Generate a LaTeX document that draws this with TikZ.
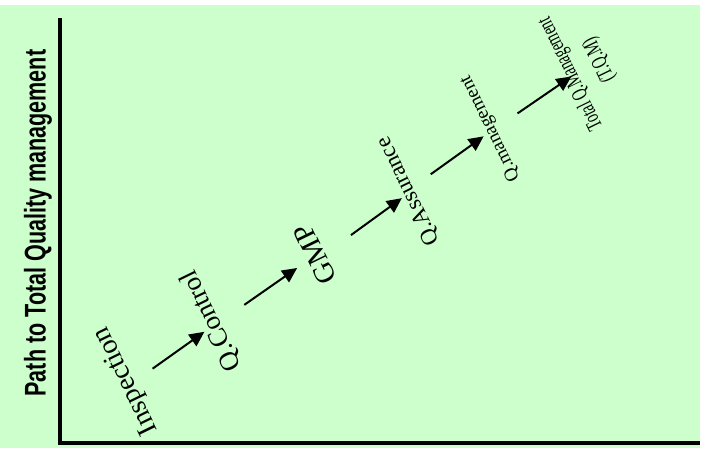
\documentclass[tikz,border=0pt]{standalone}
\usepackage{fontspec}
\setmainfont{Liberation Serif}
\newfontfamily\headfont{Liberation Sans}
\usetikzlibrary{arrows.meta}
\definecolor{paleGreen}{RGB}{204,255,204}
\begin{document}
\begin{tikzpicture}[x=1pt,y=1pt,
  stage/.style={rotate=116, inner sep=0pt, text=black},
  flow/.style={-{Triangle[length=15pt,width=14pt]}, line width=2pt}]
\fill[paleGreen] (0,0) rectangle (702,445);
% heading and axes
\node [rotate=90, inner sep=0pt] (title) at (38,226) {\headfont\bfseries\fontsize{30}{30}\selectfont\scalebox{0.72}[1]{Path to Total Quality management}};
\draw [line width=4pt] (60,432) -- (60,5) -- (702,5);
% stages
\node [stage] (insp) at (127,68) {\fontsize{28}{28}\selectfont Inspection};
\node [stage] (qctl) at (212,128) {\fontsize{27}{27}\selectfont Q.Control};
\node [stage] (gmp) at (316,195) {\fontsize{29}{29}\selectfont GMP};
\node [stage] (qass) at (410,258) {\fontsize{23}{23}\selectfont Q.Assurance};
\node [stage] (qmgt) at (492,321) {\fontsize{19}{19}\selectfont Q.management};
\node [stage, align=center, font=\fontsize{22}{32}\selectfont] (tqm) at (587,383) {\scalebox{0.66}[1]{Total Q.Management}\\\scalebox{0.66}[1]{(T.Q.M)}};
% arrows
\coordinate (a1) at (153,80);
\coordinate (b1) at (205,117);
\coordinate (a2) at (245,144);
\coordinate (b2) at (298,181);
\coordinate (a3) at (352,214);
\coordinate (b3) at (403,251);
\coordinate (a4) at (432,275);
\coordinate (b4) at (485,313);
\coordinate (a5) at (519,336);
\coordinate (b5) at (573,373);
\draw [flow] (a1) -- (b1);
\draw [flow] (a2) -- (b2);
\draw [flow] (a3) -- (b3);
\draw [flow] (a4) -- (b4);
\draw [flow] (a5) -- (b5);
\end{tikzpicture}
\end{document}
